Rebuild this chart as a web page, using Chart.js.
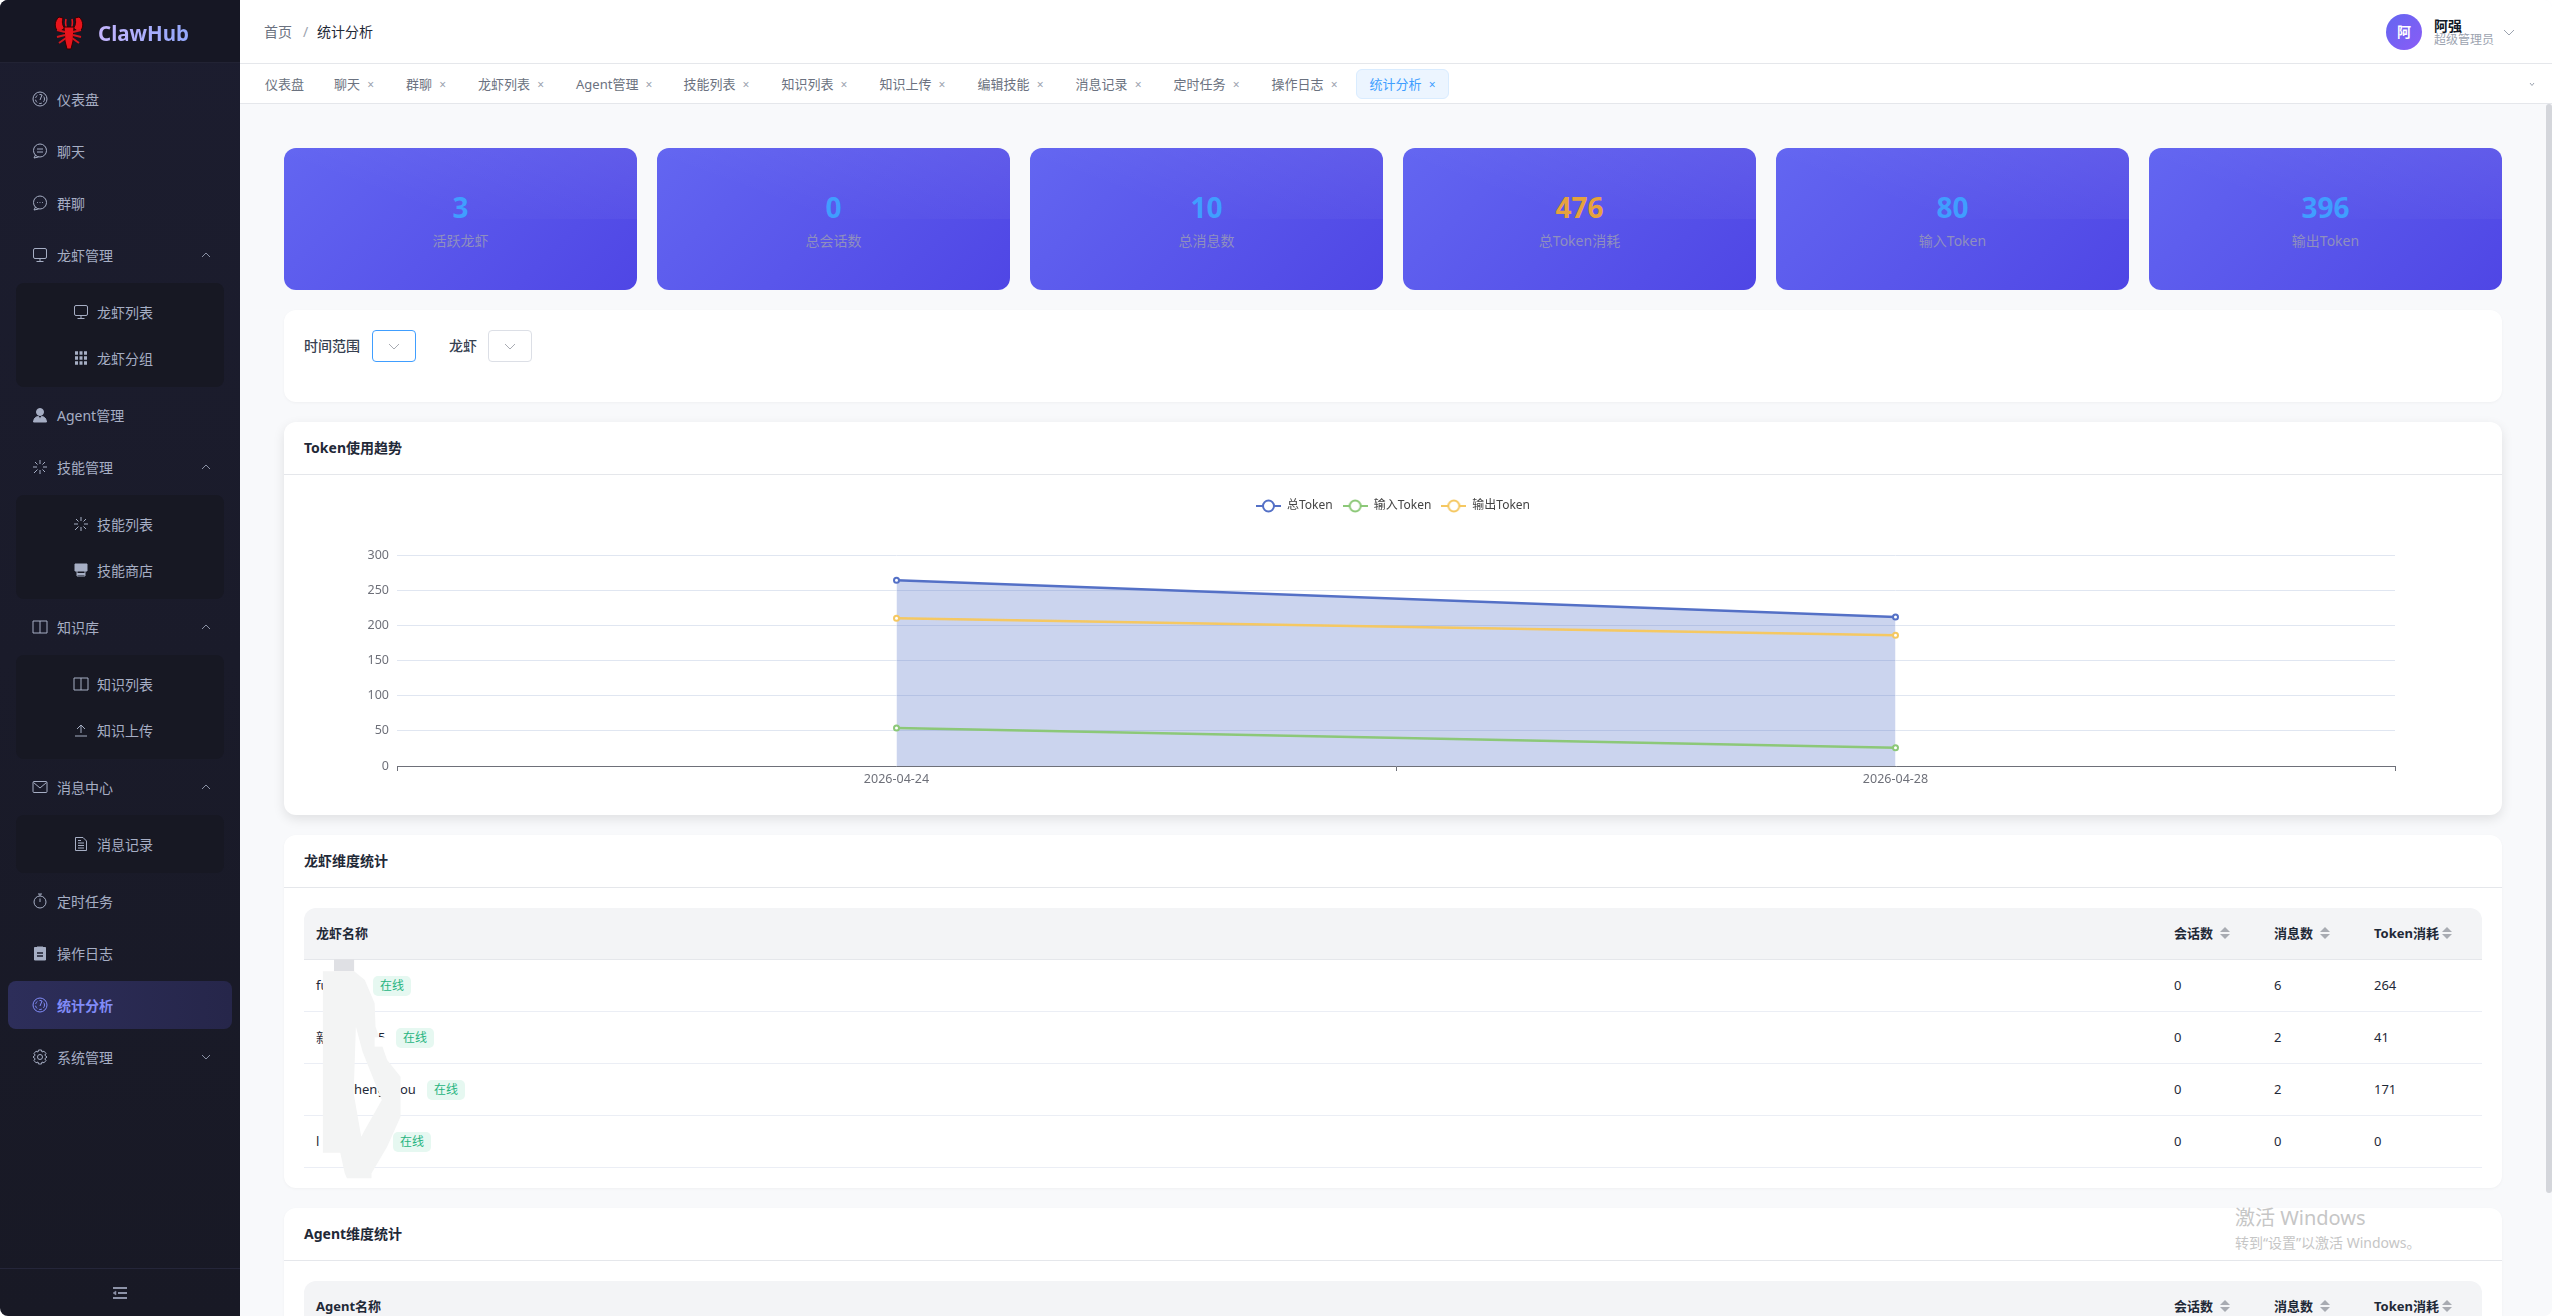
<!DOCTYPE html>
<html lang="zh-CN">
<head>
<meta charset="utf-8">
<title>ClawHub 统计分析</title>
<script src="https://cdn.jsdelivr.net/npm/chart.js@4/dist/chart.umd.min.js"></script>
<style>
*{box-sizing:border-box;margin:0;padding:0}
html,body{width:2552px;height:1316px;overflow:hidden;background:#fff;font-family:"Noto Sans","Noto Sans CJK SC",sans-serif;color:#1f2937}
#app{position:absolute;left:0;top:0;width:2552px;height:1316px;border-radius:8px;overflow:hidden;background:#f8f9fb}
#side{position:absolute;left:0;top:0;width:240px;height:1316px;background:linear-gradient(180deg,#1c1d2f,#181925)}
#logo{position:absolute;left:0;top:0;width:240px;height:63px;background:#161724;border-bottom:1px solid #222334}
#logo svg{position:absolute;left:53px;top:16px}
#logo b{position:absolute;left:98px;top:16px;font-size:20.5px;line-height:34px;font-weight:700;background:linear-gradient(90deg,#c4b5fd,#93a8fb);-webkit-background-clip:text;background-clip:text;color:transparent}
#menu{position:absolute;left:0;top:75px;width:240px;color:#a6aec4;font-size:14px}
.mi{position:relative;height:48px;margin:0 8px 4px;padding-left:24px;display:flex;align-items:center;border-radius:8px}
.mi svg.ic,.si svg.ic{width:16px;height:16px;margin-right:9px;flex:none}
.mi svg.ar{position:absolute;right:20px;top:18px;width:12px;height:12px}
.mi.on{background:linear-gradient(90deg,#2d2e5a,#26264a);color:#818cf8;font-weight:700}
.sb{margin:0 16px 4px;padding:6px 0;background:#171823;border-radius:8px}
.si{height:46px;padding-left:57px;display:flex;align-items:center}
.si svg.ic{margin-right:8px}
#fold{position:absolute;left:0;top:1268px;width:240px;height:48px;border-top:1px solid #25263a;color:#8d93a8}
#fold svg{position:absolute;left:112px;top:16px;width:16px;height:16px}
#head{position:absolute;left:240px;top:0;width:2312px;height:64px;background:#fff;border-bottom:1px solid #e5e7eb;font-size:14px}
#head span{position:absolute;top:21px;line-height:22px}
#ava{position:absolute;left:2146px;top:14px;width:36px;height:36px;border-radius:50%;background:linear-gradient(135deg,#6366f1,#8b5cf6);color:#fff;text-align:center;line-height:36px;font-size:14px;font-weight:700}
#tabs{position:absolute;left:240px;top:64px;width:2312px;height:40px;background:#fff;border-bottom:1px solid #e5e7eb;display:flex;padding-left:11px;padding-top:5px;font-size:13px;color:#6b7280;gap:2px}
.tab{height:30px;line-height:28px;padding:0 13px;border:1px solid transparent;border-radius:6px;white-space:nowrap;position:relative}
.tab:nth-child(5){padding-right:12px}
.tab i{display:inline-block;width:14px;margin-right:2px;text-align:right;font-style:normal;font-size:12px;color:#9ca3af}
.tab.on{background:#ecf5ff;border-color:#d9ecff;color:#409eff;padding:0 10px 0 13px}
.tab.on i{color:#409eff}
.stat{position:absolute;top:148px;width:353px;height:142px;border-radius:12px;background:linear-gradient(135deg,#6366f1,#4f46e5);overflow:hidden;text-align:center}
.stat:before{content:"";position:absolute;left:0;top:0;width:100%;height:71px;background:linear-gradient(200deg,rgba(255,255,255,.07),rgba(255,255,255,0) 70%)}
.stat b{position:absolute;left:0;width:100%;top:40px;font-size:28px;line-height:38px;color:#409eff;font-weight:700}
.stat b.hot{color:#e6a23c}
.stat span{position:absolute;left:0;width:100%;top:82px;font-size:14px;line-height:22px;color:#8f8fbe}
.panel{position:absolute;left:284px;width:2218px;background:#fff;border-radius:12px;box-shadow:0 1px 3px rgba(0,0,0,.04)}
.panel h3{position:absolute;left:20px;top:0;font-size:14px;line-height:52px;font-weight:700;color:#1f2937}
.panel hr{position:absolute;left:0;top:52px;width:100%;border:0;border-top:1px solid #e5e7eb}
#filter{top:310px;height:92px;font-size:14px;color:#374151}
#filter span{position:absolute;top:25px;line-height:22px;font-weight:500}
.sel{position:absolute;top:20px;width:44px;height:32px;border:1px solid #dcdfe6;border-radius:4px;color:#a8abb2}
.sel svg{position:absolute;left:15px;top:9px;width:12px;height:12px}
.sel.on{border-color:#409eff}
#trend{top:422px;height:393px;box-shadow:0 4px 12px rgba(0,0,0,.1)}
#chartBox{position:absolute;left:20px;top:58px;width:2178px;height:320px}
.thead{position:absolute;left:20px;top:73px;width:2178px;height:52px;background:#f3f4f6;border-radius:12px 12px 0 0;border-bottom:1px solid #e5e7eb;font-size:13px;font-weight:700;color:#1f2937;line-height:50px}
.thead span{position:absolute;top:0;white-space:nowrap}
.thead em{position:absolute;top:19px;width:10px;height:13px}
.thead em:before,.thead em:after{content:"";position:absolute;left:0;border-left:5px solid transparent;border-right:5px solid transparent}
.thead em:before{top:0;border-bottom:5px solid #a8abb2}
.thead em:after{top:7px;border-top:5px solid #a8abb2}
.row{position:absolute;left:20px;width:2178px;height:52px;border-bottom:1px solid #ebeef5;font-size:13px;line-height:50px;color:#1f2937}
.row span{position:absolute;top:0;white-space:nowrap}
.row b{position:absolute;top:16px;width:38px;height:20px;background:#e6f8f1;border-radius:5px;color:#26b47f;font-size:12px;font-weight:400;line-height:20px;text-align:center}
#smear{position:absolute;left:280px;top:830px;width:700px;height:486px}
#watermark{position:absolute;left:2235px;top:1204px;color:#c6c6c6;white-space:nowrap}
#watermark div:first-child{font-size:20px;line-height:28px}
#watermark div:last-child{font-size:14px;line-height:20px;margin-top:1px}
#bar{position:absolute;left:2546px;top:104px;width:6px;height:1089px;background:#d4d6db;border-radius:3px}
</style>
</head>
<body>
<div id="app">
  <div id="side">
    <div id="logo">
      <svg width="32" height="34" viewBox="0 0 32 34">
        <path d="M6 1C1 5 1 13 6 16L12 12C9 10 9 5 10 2ZM26 1C31 5 31 13 26 16L20 12C23 10 23 5 22 2Z" fill="#e8141c" stroke="#300" stroke-width="1"/>
        <path d="M13 3C12 8 13 11 14 13M19 3C20 8 19 11 18 13" stroke="#e8141c" stroke-width="1.6" fill="none"/>
        <path d="M11 11H21L20 25L18 33H14L12 25Z" fill="#e8141c" stroke="#300" stroke-width="1"/>
        <path d="M12 16L4 14M12 19L4 21M13 22L6 27M20 16L28 14M20 19L28 21M19 22L26 27" stroke="#d3151c" stroke-width="2"/>
      </svg>
      <b>ClawHub</b>
    </div>
    <div id="menu"></div>
    <div id="fold"><svg viewBox="0 0 16 16" fill="none" stroke="currentColor" stroke-width="2"><path d="M1 3H15M6 8H15M1 13H15"/><path d="M1 8L4 6V10Z" fill="currentColor" stroke-width="0.5"/></svg></div>
  </div>
  <div id="head">
    <span style="left:24px;color:#6b7280">首页</span>
    <span style="left:63px;color:#9ca3af">/</span>
    <span style="left:77px;color:#1f2937">统计分析</span>
    <div id="ava">阿</div>
    <span style="left:2194px;top:15px;font-size:14px;font-weight:700;color:#111827">阿强</span>
    <span style="left:2194px;top:29px;font-size:12px;color:#9ca3af">超级管理员</span>
    <svg style="position:absolute;left:2263px;top:26px" width="12" height="12" viewBox="0 0 12 12" fill="none" stroke="#9ca3af"><path d="M1 4L6 9L11 4"/></svg>
  </div>
  <div id="tabs"></div>
  <svg style="position:absolute;left:2529px;top:81px" width="6" height="6" viewBox="0 0 6 6" fill="none" stroke="#9ca3af"><path d="M1 2L3 4.5L5 2"/></svg>
  <div id="stats"></div>
  <div class="panel" id="filter">
    <span style="left:20px">时间范围</span>
    <div class="sel on" style="left:88px"><svg viewBox="0 0 12 12" fill="none" stroke="currentColor"><path d="M1 4L6 9L11 4"/></svg></div>
    <span style="left:165px">龙虾</span>
    <div class="sel" style="left:204px"><svg viewBox="0 0 12 12" fill="none" stroke="currentColor"><path d="M1 4L6 9L11 4"/></svg></div>
  </div>
  <div class="panel" id="trend">
    <h3>Token使用趋势</h3><hr>
    <div id="chartBox"><canvas id="tokenChart" width="2178" height="320"></canvas></div>
  </div>
  <div class="panel" id="clawPanel" style="top:835px;height:353px">
    <h3>龙虾维度统计</h3><hr>
  </div>
  <div class="panel" id="agentPanel" style="top:1208px;height:200px">
    <h3>Agent维度统计</h3><hr>
  </div>
  <svg id="smear" viewBox="0 0 1568 1458" preserveAspectRatio="none">
    <path d="M121 388H166V424H121Z" fill="#dfe0e4"/>
    <path d="M96 424H166L190 450L212 520L214 590L240 690L270 740V860L240 950L205 1030V1045H150L145 1030L135 968H96ZM170 590L185 665L228 810L190 900L182 920L165 790Z" fill="#f3f4f4" fill-rule="evenodd"/>
    <path d="M212 622H245V650H212Z" fill="#fff"/>
  </svg>
  <div id="bar"></div>
  <div id="watermark"><div>激活 Windows</div><div>转到“设置”以激活 Windows。</div></div>
</div>
<script>
// chart data
var dates = ["2026-04-24", "2026-04-28"];
var totalToken = [264, 212];
var inputToken = [54, 26];
var outputToken = [210, 186];
var seriesNames = ["总Token", "输入Token", "输出Token"];
var seriesColors = ["#5470c6", "#8cc878", "#f5c862"];
var yMax = 300;
var yStep = 50;

// page data
var statValues = ["3", "0", "10", "476", "80", "396"];
var statLabels = ["活跃龙虾", "总会话数", "总消息数", "总Token消耗", "输入Token", "输出Token"];
var tabNames = ["仪表盘", "聊天", "群聊", "龙虾列表", "Agent管理", "技能列表", "知识列表", "知识上传", "编辑技能", "消息记录", "定时任务", "操作日志", "统计分析"];
var columns = ["会话数", "消息数", "Token消耗"];
var clawSessions = [0, 0, 0, 0];
var clawMessages = [6, 2, 2, 0];
var clawTokens = [264, 41, 171, 0];

var icons = {
    gauge: '<circle cx="8" cy="8" r="7"/><circle cx="8" cy="8" r="4.5" stroke-dasharray="3 2"/><path d="M8 9L10 4"/>',
    chat: '<circle cx="8" cy="7.5" r="6.5"/><path d="M3.5 12L2 15L6.5 14"/><path d="M5 6H11M5 9H11"/>',
    dots: '<circle cx="8" cy="7.5" r="6.5"/><path d="M3.5 12L2 15L6.5 14"/><path d="M5 7.5H5.8M7.6 7.5H8.4M10.2 7.5H11"/>',
    monitor: '<rect x="1.5" y="1.5" width="13" height="10" rx="1.5"/><path d="M8 11.5V14.5M4.5 14.5H11.5"/>',
    grid: '<path d="M2 3H14M2 8H14M2 13H14" stroke-width="3.4" stroke-dasharray="3 1.5"/>',
    user: '<circle cx="8" cy="5" r="3.5" fill="currentColor"/><path d="M1.5 15C2 10 5 9.5 6.5 9.5L8 12L9.5 9.5C11 9.5 14 10 14.5 15Z" fill="currentColor"/>',
    spark: '<path d="M8 1V5M8 11V15M1 8H5M11 8H15M3 3L5.5 5.5M10.5 10.5L13 13M13 3L10.5 5.5M5.5 10.5L2 14"/>',
    shop: '<path d="M2 2H14V9H2Z" fill="currentColor"/><path d="M4 9V14H12V9" /><path d="M4 12H12" stroke-width="2"/>',
    book: '<path d="M1 2H15V14H1ZM8 2V14"/>',
    upload: '<path d="M2 14H14M8 11V3M4 7L8 3L12 7"/>',
    mail: '<rect x="1" y="2.5" width="14" height="11" rx="1"/><path d="M1.5 3.5L8 9L14.5 3.5"/>',
    doc: '<path d="M2.5 1.5H10L13.5 5V14.5H2.5ZM5 7H11M5 9.5H11M5 12H11M5 4.5H8"/>',
    timer: '<circle cx="8" cy="9" r="6"/><path d="M8 5.5V9M6 1H10M8 1V3"/>',
    clip: '<path d="M2.5 2.5H13.5V15H2.5Z" fill="currentColor"/><path d="M5 2H11V4H5Z" fill="currentColor"/><path d="M5 8H11M5 11H11" stroke="#1b1c2d" stroke-width="1.4"/>',
    gear: '<circle cx="8" cy="8" r="2.5"/><path d="M6.5 1H9.5L10 3L12 2.2L14 4.5L12.8 6.2L15 8L12.8 9.8L14 11.5L12 13.8L10 13L9.5 15H6.5L6 13L4 13.8L2 11.5L3.2 9.8L1 8L3.2 6.2L2 4.5L4 2.2L6 3Z"/>'
};
function svgIcon(name) {
    return '<svg class="ic" viewBox="0 0 16 16" fill="none" stroke="currentColor" stroke-width="1">' + icons[name] + '</svg>';
}
function arrow(up) {
    return '<svg class="ar" viewBox="0 0 12 12" fill="none" stroke="currentColor" stroke-width="0.8"><path d="' + (up ? 'M2 8L6 4L10 8' : 'M2 4L6 8L10 4') + '"/></svg>';
}

var menu = [
    ["仪表盘", "gauge"], ["聊天", "chat"], ["群聊", "dots"],
    ["龙虾管理", "monitor", [["龙虾列表", "monitor"], ["龙虾分组", "grid"]]],
    ["Agent管理", "user"],
    ["技能管理", "spark", [["技能列表", "spark"], ["技能商店", "shop"]]],
    ["知识库", "book", [["知识列表", "book"], ["知识上传", "upload"]]],
    ["消息中心", "mail", [["消息记录", "doc"]]],
    ["定时任务", "timer"], ["操作日志", "clip"], ["统计分析", "gauge"], ["系统管理", "gear"]
];
var html = "";
menu.forEach(function (m) {
    var on = m[0] === "统计分析" ? " on" : "";
    html += '<div class="mi' + on + '">' + svgIcon(m[1]) + m[0];
    if (m[2]) html += arrow(true);
    if (m[0] === "系统管理") html += arrow(false);
    html += '</div>';
    if (m[2]) {
        html += '<div class="sb">';
        m[2].forEach(function (s) { html += '<div class="si">' + svgIcon(s[1]) + s[0] + '</div>'; });
        html += '</div>';
    }
});
document.getElementById("menu").innerHTML = html;

html = "";
tabNames.forEach(function (t, i) {
    var on = t === "统计分析" ? " on" : "";
    html += '<div class="tab' + on + '">' + t + (i ? '<i>×</i>' : '') + '</div>';
});
document.getElementById("tabs").innerHTML = html;

html = "";
statValues.forEach(function (v, i) {
    html += '<div class="stat" style="left:' + (284 + i * 373) + 'px"><b' + (i === 3 ? ' class="hot"' : '') + '>' + v + '</b><span>' + statLabels[i] + '</span></div>';
});
document.getElementById("stats").innerHTML = html;

// tables
function theadHtml(first) {
    var s = '<div class="thead"><span style="left:12px">' + first + '</span>';
    var lefts = [1870, 1970, 2070], carets = [1916, 2016, 2138];
    columns.forEach(function (c, i) {
        s += '<span style="left:' + lefts[i] + 'px">' + c + '</span><em style="left:' + carets[i] + 'px"></em>';
    });
    return s + '</div>';
}
// what is still readable of the names next to the smear
var nameParts = [
    '<span style="left:12px">fu</span>',
    '<span style="left:12px">新</span><span style="left:74px">5</span>',
    '<span style="left:50px">heng</span><span style="left:96px">ou</span>',
    '<span style="left:12px">l</span>'
];
var tagLefts = [69, 92, 123, 89];
html = theadHtml("龙虾名称");
clawTokens.forEach(function (t, i) {
    html += '<div class="row" style="top:' + (125 + i * 52) + 'px">' + nameParts[i] +
        '<b style="left:' + tagLefts[i] + 'px">在线</b>' +
        '<span style="left:1870px">' + clawSessions[i] + '</span>' +
        '<span style="left:1970px">' + clawMessages[i] + '</span>' +
        '<span style="left:2070px">' + t + '</span></div>';
});
document.getElementById("clawPanel").insertAdjacentHTML("beforeend", html);
document.getElementById("agentPanel").insertAdjacentHTML("beforeend", theadHtml("Agent名称"));

// legend icon: a short line with a ring on it
function legendIcon(color) {
    var c = document.createElement("canvas");
    c.width = 25; c.height = 14;
    var g = c.getContext("2d");
    g.strokeStyle = color;
    g.lineWidth = 2;
    g.beginPath(); g.moveTo(0, 7); g.lineTo(25, 7); g.stroke();
    g.beginPath(); g.arc(12.5, 7, 5.5, 0, Math.PI * 2);
    g.fillStyle = "#fff"; g.fill(); g.stroke();
    return c;
}

var legendBox = {
    id: "legendBox",
    beforeLayout: function (chart) {
        var l = chart.legend;
        if (l && !l.fixedHeight) {
            var fit = l.fit;
            l.fit = function () { fit.call(this); this.height = 65; };
            l.fixedHeight = true;
        }
    }
};

function lineSet(name, values, color, order) {
    return {
        label: name,
        data: values,
        borderColor: color,
        backgroundColor: color,
        borderWidth: 2.5,
        tension: 0,
        order: order,
        pointRadius: 2.5,
        pointBorderWidth: 2,
        pointBorderColor: color,
        pointBackgroundColor: "#fff",
        fill: false
    };
}
var totalSet = lineSet(seriesNames[0], totalToken, seriesColors[0], 3);
totalSet.fill = "origin";
totalSet.backgroundColor = "rgba(84,112,198,0.3)";

var tokenChart = new Chart(document.getElementById("tokenChart"), {
    type: "line",
    data: {
        labels: dates,
        datasets: [
            totalSet,
            lineSet(seriesNames[1], inputToken, seriesColors[1], 2),
            lineSet(seriesNames[2], outputToken, seriesColors[2], 1)
        ]
    },
    plugins: [legendBox],
    options: {
        responsive: false,
        animation: false,
        devicePixelRatio: 1,
        layout: { padding: { top: 10 } },
        plugins: {
            tooltip: { enabled: false },
            legend: {
                position: "top",
                labels: {
                    usePointStyle: true,
                    pointStyleWidth: 25,
                    padding: 10,
                    color: "#444",
                    font: { size: 12, family: '"Noto Sans","Noto Sans CJK SC"' },
                    sort: function (a, b) { return a.datasetIndex - b.datasetIndex; },
                    generateLabels: function (chart) {
                        return Chart.defaults.plugins.legend.labels.generateLabels(chart).map(function (item) {
                            item.pointStyle = legendIcon(seriesColors[item.datasetIndex]);
                            return item;
                        });
                    }
                }
            }
        },
        scales: {
            x: {
                offset: true,
                grid: { offset: true, drawOnChartArea: false, drawTicks: true, tickLength: 5, tickColor: "#6e7079" },
                border: { color: "#6e7079", width: 1 },
                ticks: { color: "#6e7079", padding: 1, maxRotation: 0, font: { size: 12.5, family: '"Noto Sans"' } },
                afterFit: function (s) { s.height = 34; }
            },
            y: {
                min: 0,
                max: yMax,
                grid: { color: "#e0e6f1", drawTicks: false },
                border: { display: false },
                ticks: { stepSize: yStep, color: "#6e7079", padding: 8, font: { size: 12.5, family: '"Noto Sans"' } },
                afterFit: function (s) { s.width = 93; }
            },
            // empty axis on the right, keeps the plot inset without moving the legend
            yRight: {
                position: "right",
                grid: { display: false, drawOnChartArea: false },
                border: { display: false },
                ticks: { display: false },
                afterFit: function (s) { s.width = 87; }
            }
        }
    }
});
</script>
</body>
</html>
